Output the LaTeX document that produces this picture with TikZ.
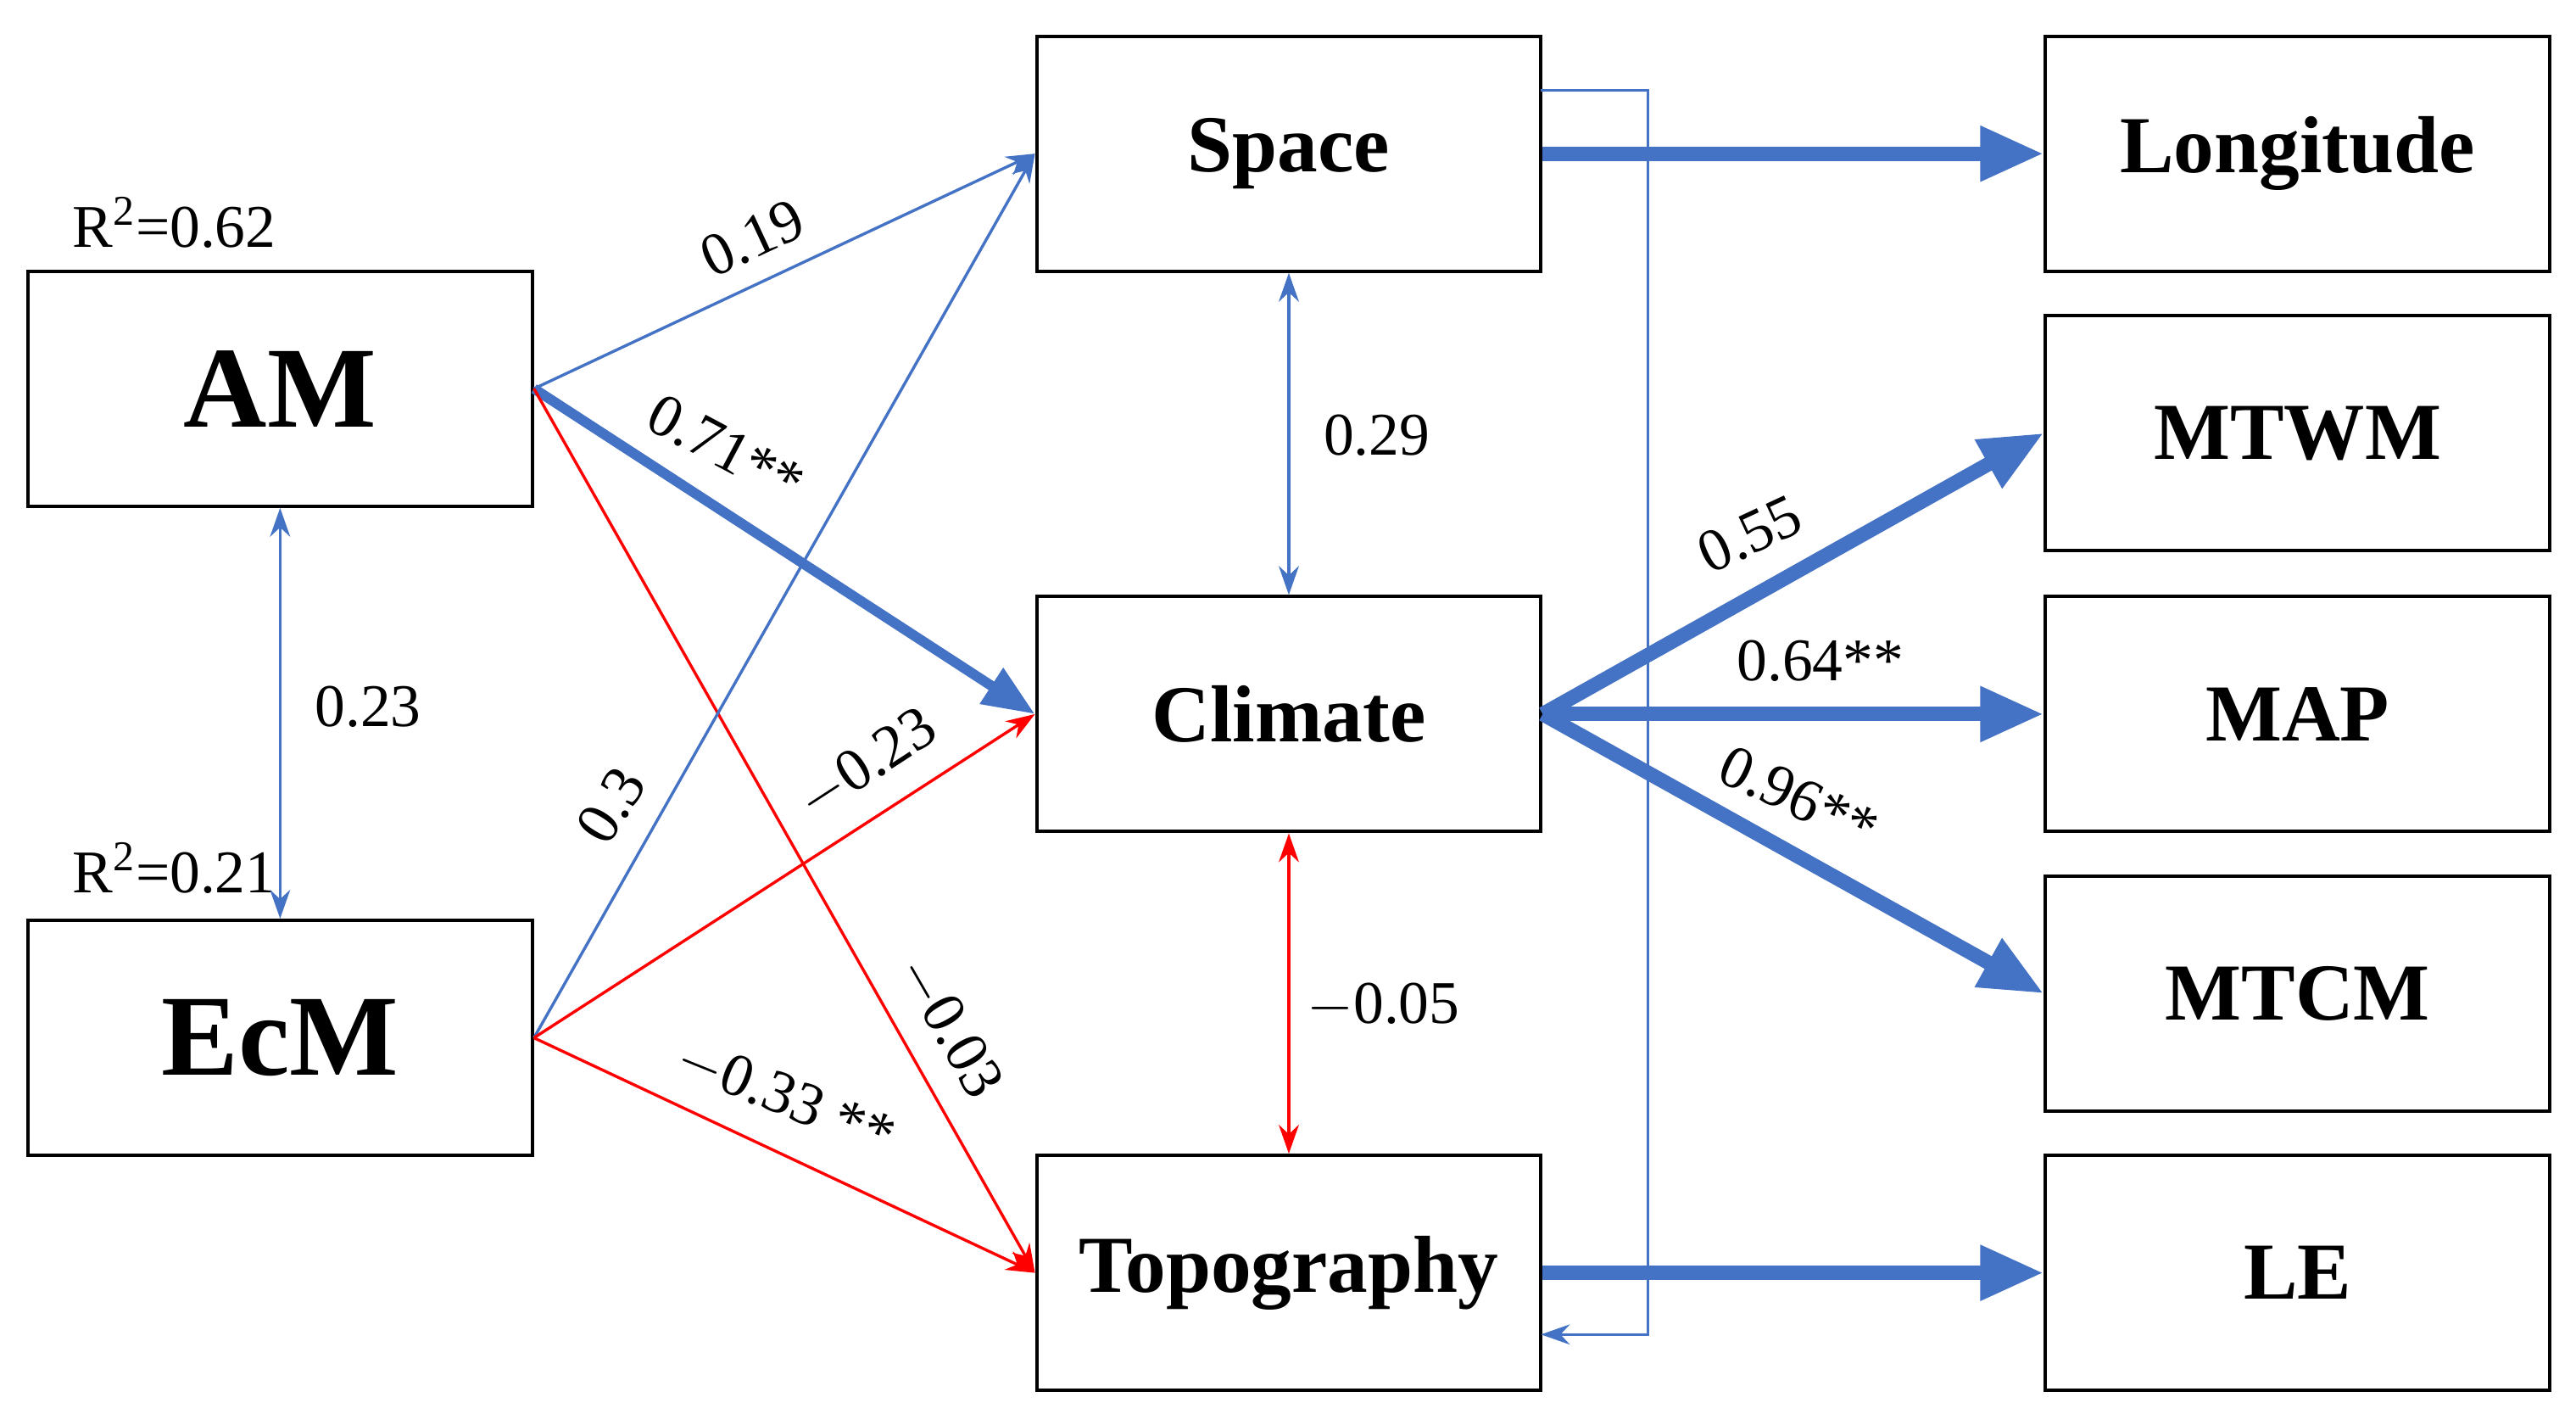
\documentclass[tikz,border=0pt]{standalone}
\usepackage{fontspec}
\setmainfont{Liberation Serif}
\usetikzlibrary{arrows.meta}
\definecolor{bl}{HTML}{4472C4}
\definecolor{rd}{HTML}{FF0000}
\begin{document}
\begin{tikzpicture}[x=0.02cm,y=-0.02cm,
 bx/.style={draw,line width=1.2pt,minimum width=6.14cm,minimum height=2.86cm,font=\fontsize{28}{28}\selectfont\bfseries},
 big/.style={bx,font=\fontsize{40}{40}\selectfont\bfseries},
 thin/.style={bl,line width=1pt,-{Stealth[length=10pt,width=7pt]}},
 thinr/.style={rd,line width=1pt,-{Stealth[length=10pt,width=7pt]}},
 thick/.style={bl,line width=5pt,-{Triangle[length=22pt,width=18pt]}},
 thickm/.style={bl,line width=3.5pt,-{Triangle[length=18pt,width=14pt]}},
 lb/.style={font=\fontsize{21}{21}\selectfont}]
\useasboundingbox (0,0) rectangle (1568,867);
\node[big] (am) at (170.5,236.5) {AM};
\node[big] (ecm) at (170.5,631.5) {EcM};
\node[bx] (sp) at (784.5,93.5) {Space};
\node[bx] (cl) at (784.5,434.5) {Climate};
\node[bx] (tp) at (784.5,774.5) {Topography};
\node[bx] (lo) at (1398.5,93.5) {Longitude};
\node[bx] (mw) at (1398.5,263.5) {MTWM};
\node[bx] (mp) at (1398.5,434.5) {MAP};
\node[bx] (mc) at (1398.5,604.5) {MTCM};
\node[bx] (le) at (1398.5,774.5) {LE};
\node[lb,anchor=south west] at (38,157) {R\textsuperscript{2}=0.62};
\node[lb,anchor=south west] at (38,550) {R\textsuperscript{2}=0.21};
\draw[thin] (am.east) -- (sp.west);
\draw[thickm] (am.east) -- (cl.west);
\draw[thinr] (am.east) -- (tp.west);
\draw[thin] (ecm.east) -- (sp.west);
\draw[thinr] (ecm.east) -- (cl.west);
\draw[thinr] (ecm.east) -- (tp.west);
\draw[thin,{Stealth[length=10pt,width=7pt]}-{Stealth[length=10pt,width=7pt]}] (am.south) -- (ecm.north);
\draw[thin,{Stealth[length=10pt,width=7pt]}-{Stealth[length=10pt,width=7pt]}] (sp.south) -- (cl.north);
\draw[thinr,{Stealth[length=10pt,width=7pt]}-{Stealth[length=10pt,width=7pt]}] (cl.south) -- (tp.north);
\draw[thick] (sp.east) -- (lo.west);
\draw[thick] (cl.east) -- (mw.west);
\draw[thick] (cl.east) -- (mp.west);
\draw[thick] (cl.east) -- (mc.west);
\draw[thick] (tp.east) -- (le.west);
\coordinate (a1) at (938,55);
\coordinate (a2) at (938,812);
\draw[thin,line width=0.8pt] (a1) -- (1003,55) -- (1003,812) -- (a2);
\node[lb,rotate=25] at (458,145) {0.19};
\node[lb,rotate=-28] at (442,273) {0.71**};
\node[lb,rotate=58] at (372,490) {0.3};
\node[lb,rotate=33] at (528,465) {$-$0.23};
\node[lb,rotate=-60] at (578,625) {$-$0.03};
\node[lb,rotate=-22] at (478,668) {$-$0.33 **};
\node[lb] at (224,430) {0.23};
\node[lb] at (838,265) {0.29};
\node[lb] at (842,612) {$-$0.05};
\node[lb,rotate=25] at (1065,325) {0.55};
\node[lb] at (1108,402) {0.64**};
\node[lb,rotate=-25] at (1095,485) {0.96**};
\end{tikzpicture}
\end{document}
